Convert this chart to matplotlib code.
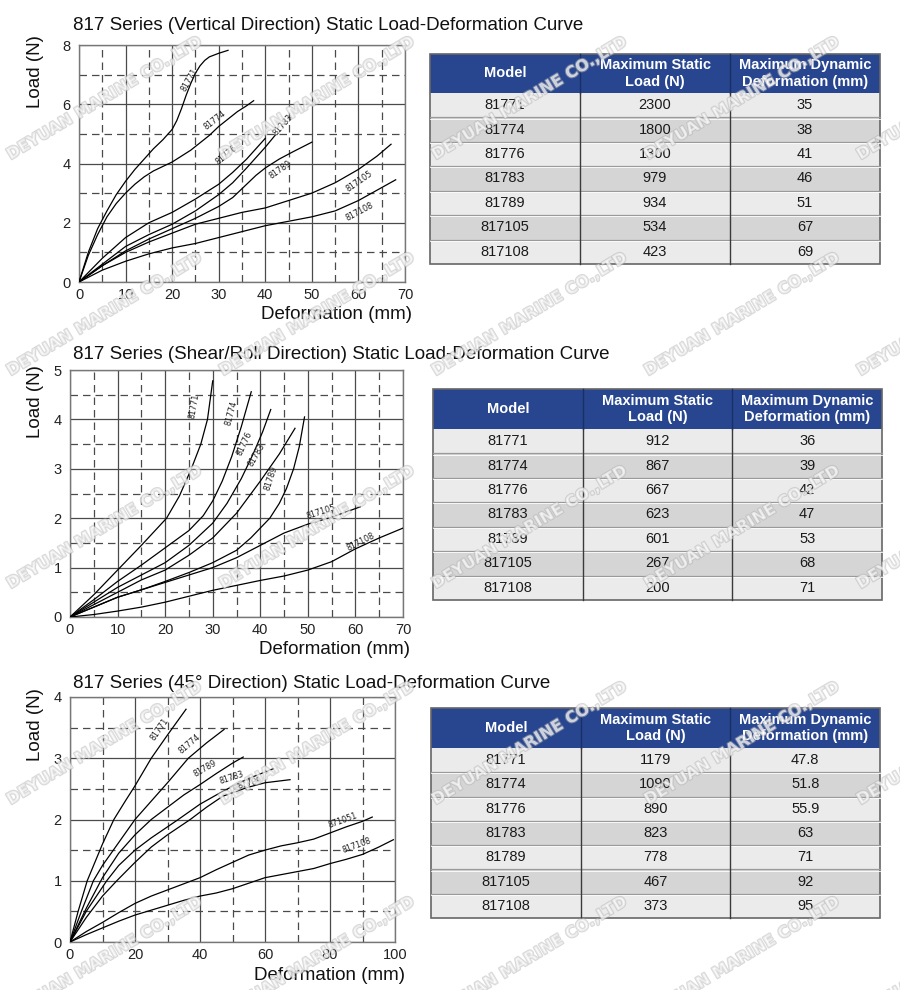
import numpy as np
import matplotlib
matplotlib.use('Agg')
import matplotlib.pyplot as plt
import matplotlib.patheffects as pe
from matplotlib.patches import Rectangle

plt.rcParams['font.family'] = ['Liberation Sans', 'DejaVu Sans']

W, H = 900, 990

# ---- data ----
models = ['81771', '81774', '81776', '81783', '81789', '817105', '817108']

vert_load = [2300, 1800, 1300, 979, 934, 534, 423]
vert_def = [35, 38, 41, 46, 51, 67, 69]
shear_load = [912, 867, 667, 623, 601, 267, 200]
shear_def = [36, 39, 42, 47, 53, 68, 71]
deg45_load = [1179, 1090, 890, 823, 778, 467, 373]
deg45_def = ['47.8', '51.8', '55.9', '63', '71', '92', '95']

table_cols = ['Model', 'Maximum Static\nLoad (N)', 'Maximum Dynamic\nDeformation (mm)']

# vertical direction curves (deformation mm, load)
vert_curves = [
    ([0, 2, 4, 6, 8, 10, 12, 14, 16, 18, 20, 21, 22, 23, 24, 25, 26, 27, 28, 30, 32],
     [0, 1.0, 1.8, 2.4, 2.95, 3.4, 3.8, 4.15, 4.5, 4.8, 5.15, 5.45, 5.85, 6.3, 6.7, 7.05, 7.3, 7.48, 7.6, 7.72, 7.82]),
    ([0, 2, 4, 6, 8, 10, 12, 14, 16, 18, 20, 22, 24, 26, 28, 30, 32, 34, 36, 37.5],
     [0, 0.9, 1.6, 2.2, 2.65, 3.0, 3.3, 3.55, 3.75, 3.9, 4.05, 4.25, 4.45, 4.7, 4.95, 5.25, 5.5, 5.75, 5.95, 6.12]),
    ([0, 5, 10, 15, 20, 25, 30, 33, 36, 38, 40],
     [0, 0.8, 1.5, 2.0, 2.35, 2.8, 3.3, 3.7, 4.15, 4.5, 4.85]),
    ([0, 5, 10, 15, 20, 25, 30, 33, 36, 38, 40, 42.1],
     [0, 0.6, 1.2, 1.6, 1.95, 2.4, 2.95, 3.35, 3.85, 4.2, 4.55, 4.95]),
    ([0, 5, 10, 15, 20, 25, 30, 33, 36, 38, 40, 43, 46, 50],
     [0, 0.55, 1.05, 1.45, 1.8, 2.15, 2.55, 2.85, 3.3, 3.6, 3.85, 4.15, 4.4, 4.72]),
    ([0, 5, 10, 15, 20, 25, 30, 35, 40, 45, 50, 55, 60, 64, 67],
     [0, 0.55, 1.0, 1.35, 1.65, 1.95, 2.15, 2.35, 2.5, 2.75, 3.0, 3.35, 3.8, 4.25, 4.65]),
    ([0, 5, 10, 15, 20, 25, 30, 35, 40, 45, 50, 55, 60, 64, 68],
     [0, 0.4, 0.7, 0.95, 1.15, 1.3, 1.5, 1.7, 1.9, 2.05, 2.2, 2.4, 2.75, 3.1, 3.45]),
]

# shear/roll direction curves
shear_curves = [
    ([0, 5, 10.5, 15, 20.3, 23, 25.5, 27.5, 28.9, 30],
     [0, 0.45, 1.0, 1.45, 2.0, 2.45, 3.0, 3.5, 4.0, 4.78]),
    ([0, 5, 10, 15, 20, 25, 28, 30, 32, 34, 36, 38.1],
     [0, 0.35, 0.72, 1.05, 1.4, 1.75, 2.05, 2.35, 2.75, 3.25, 3.85, 4.56]),
    ([0, 5, 10, 15, 20, 25, 30, 33, 36, 38.5, 40.5, 42.2],
     [0, 0.3, 0.6, 0.85, 1.1, 1.45, 1.9, 2.3, 2.8, 3.3, 3.75, 4.2]),
    ([0, 5, 10, 15, 20, 25, 30, 35, 40, 44, 47.3],
     [0, 0.25, 0.5, 0.75, 0.95, 1.25, 1.6, 2.1, 2.75, 3.3, 3.82]),
    ([0, 5, 10, 15, 20, 25, 30, 35, 38, 40, 42, 44, 45.5, 47, 48.2, 49.3],
     [0, 0.2, 0.4, 0.55, 0.72, 0.9, 1.1, 1.35, 1.6, 1.8, 2.0, 2.3, 2.6, 3.0, 3.45, 4.05]),
    ([0, 5, 10, 15, 20, 25, 30, 35, 40, 45, 50, 55, 61],
     [0, 0.2, 0.4, 0.55, 0.7, 0.85, 1.0, 1.2, 1.45, 1.7, 1.88, 2.02, 2.23]),
    ([0, 5, 10, 15, 20, 25, 30, 35, 40, 45, 50, 55, 60, 65, 70],
     [0, 0.05, 0.12, 0.2, 0.3, 0.42, 0.54, 0.64, 0.74, 0.83, 0.95, 1.12, 1.38, 1.6, 1.8]),
]

# 45 degree direction curves
deg45_curves = [
    ([0, 2.5, 5.3, 10, 13.5, 17, 20, 25, 30, 35.7],
     [0, 0.5, 1.0, 1.6, 2.0, 2.3, 2.55, 3.0, 3.38, 3.8]),
    ([0, 3.5, 7.2, 10, 14, 20, 25, 30, 36.4, 42, 47.4],
     [0, 0.5, 1.0, 1.25, 1.55, 2.0, 2.3, 2.6, 3.0, 3.25, 3.47]),
    ([0, 5, 10, 15, 20, 25, 30, 35, 40, 45, 50, 53.3],
     [0, 0.55, 1.05, 1.45, 1.75, 2.0, 2.2, 2.4, 2.57, 2.75, 2.92, 3.02]),
    ([0, 5, 11.3, 15, 20, 25, 30, 33.3, 40, 45, 49.2, 55, 62.6],
     [0, 0.5, 1.0, 1.25, 1.5, 1.7, 1.88, 2.0, 2.25, 2.4, 2.52, 2.67, 2.83]),
    ([0, 5, 10, 14.4, 20, 25, 30, 37, 42, 47, 54.4, 60, 67.7],
     [0, 0.4, 0.75, 1.0, 1.3, 1.55, 1.75, 2.0, 2.2, 2.38, 2.52, 2.6, 2.65]),
    ([0, 5, 10, 15, 20, 25, 30, 35, 40, 45, 50, 55, 60, 65, 70, 75, 80, 85, 90, 93],
     [0, 0.17, 0.32, 0.48, 0.63, 0.75, 0.85, 0.95, 1.05, 1.18, 1.3, 1.42, 1.5, 1.57, 1.62, 1.68, 1.78, 1.88, 1.97, 2.04]),
    ([0, 5, 10, 15, 20, 25, 30, 35, 40, 45, 50, 55, 60, 65, 70, 75, 80, 85, 90, 95, 99.5],
     [0, 0.12, 0.23, 0.34, 0.44, 0.52, 0.6, 0.68, 0.75, 0.8, 0.87, 0.96, 1.05, 1.1, 1.15, 1.2, 1.28, 1.35, 1.43, 1.55, 1.67]),
]

vert_names = models
shear_names = models
deg45_names = ['81771', '81774', '81789', '81783', '81789', '871051', '817108']

fig = plt.figure(figsize=(W / 100, H / 100), dpi=100)
fig.patch.set_facecolor('white')


def fx(x):
    return x / W


def fy(y):
    return 1 - y / H


def chart(box, title, title_y, curves, names, lab_pos, xmax, xmaj, xmin_, ymax, ymaj, ymin_, ylab_y, xlab_xy):
    l, t, r, b = box
    ax = fig.add_axes([fx(l), fy(b), (r - l) / W, (b - t) / H])
    for (xs, ys) in curves:
        ax.plot(xs, ys, color='black', lw=0.9, zorder=3)
    for name, (px, py, rot) in zip(names, lab_pos):
        ax.text(px, py, name, fontsize=5.8, rotation=rot, rotation_mode='anchor',
                ha='center', va='center', color='#222222', zorder=4, family='DejaVu Sans')
    ax.set_xlim(0, xmax)
    ax.set_ylim(0, ymax)
    ax.set_xticks(np.arange(0, xmax + 0.1, xmaj))
    ax.set_xticks(np.arange(xmin_, xmax, xmaj), minor=True)
    ax.set_yticks(np.arange(0, ymax + 0.1, ymaj))
    ax.set_yticks(np.arange(ymin_, ymax, ymaj), minor=True)
    ax.grid(which='major', color='#4a4a4a', lw=0.9, ls='-')
    ax.grid(which='minor', color='#4a4a4a', lw=0.9, ls=(0, (6, 4)))
    ax.tick_params(which='both', length=0, labelsize=10.5, labelcolor='#222222')
    ax.tick_params(axis='x', pad=4)
    ax.tick_params(axis='y', pad=6)
    for s in ax.spines.values():
        s.set_color('#777777')
        s.set_linewidth(1.0)
    ax.set_axisbelow(True)
    fig.text(fx(73), fy(title_y), title, fontsize=13.5, ha='left', va='center', color='#111111')
    fig.text(fx(36), fy(ylab_y), 'Load (N)', fontsize=13.5, rotation=90, ha='center', va='center', color='#111111')
    fig.text(fx(xlab_xy[0]), fy(xlab_xy[1]), 'Deformation (mm)', fontsize=13.5, ha='right', va='center', color='#111111')
    return ax


chart((79, 45, 405, 282), '817 Series (Vertical Direction) Static Load-Deformation Curve', 25,
      vert_curves, vert_names,
      [(23.8, 6.84, 60), (29.2, 5.47, 38), (31.7, 4.29, 40), (43.9, 5.3, 48), (43.2, 3.79, 35),
       (60.3, 3.39, 35), (60.3, 2.38, 28)],
      70, 10, 5, 8, 2, 1, 72, (412, 315))

chart((70, 370, 403, 617), '817 Series (Shear/Roll Direction) Static Load-Deformation Curve', 354,
      shear_curves, shear_names,
      [(26.2, 4.26, 80), (33.9, 4.12, 75), (36.7, 3.51, 65), (39.2, 3.28, 60), (42.3, 2.8, 72),
       (52.8, 2.13, 18), (61.2, 1.52, 27)],
      70, 10, 5, 5, 1, 0.5, 402, (410, 650))

chart((70, 697, 395, 942), '817 Series (45\u00b0 Direction) Static Load-Deformation Curve', 684,
      deg45_curves, deg45_names,
      [(27.7, 3.48, 55), (36.9, 3.24, 40), (41.5, 2.83, 30), (49.7, 2.68, 18), (55.4, 2.59, 15),
       (84.1, 1.99, 20), (88.2, 1.58, 20)],
      100, 20, 10, 4, 1, 0.5, 725, (405, 975))


def table(box, loads, defs):
    l, t, r, hb, b = box
    ax = fig.add_axes([fx(l), fy(b), (r - l) / W, (b - t) / H])
    w, h = r - l, b - t
    ax.set_xlim(0, w)
    ax.set_ylim(h, 0)
    ax.axis('off')
    hh = hb - t
    rh = (h - hh) / len(models)
    cw = w / 3
    ax.add_patch(Rectangle((0, 0), w, hh, facecolor='#28468f', edgecolor='none', clip_on=False))
    for j, c in enumerate(table_cols):
        ax.text(cw * (j + 0.5), hh / 2, c, ha='center', va='center', color='white',
                fontsize=10.5, fontweight='bold', linespacing=1.25)
    for i, m in enumerate(models):
        y0 = hh + i * rh
        fc = '#ebebeb' if i % 2 == 0 else '#d5d5d5'
        ax.add_patch(Rectangle((0, y0), w, rh, facecolor=fc, edgecolor='none', clip_on=False))
        if i > 0:
            ax.plot([0, w], [y0, y0], color='#9a9a9a', lw=0.9, clip_on=False)
            ax.plot([0, w], [y0 + 1.2, y0 + 1.2], color='white', lw=0.6, clip_on=False)
        for j, v in enumerate([m, loads[i], defs[i]]):
            ax.text(cw * (j + 0.5), y0 + rh / 2, str(v), ha='center', va='center',
                    fontsize=10.5, color='#1a1a1a')
    for j in (1, 2):
        ax.plot([cw * j, cw * j], [0, hh], color='#1a2f66', lw=1.0, clip_on=False)
        ax.plot([cw * j, cw * j], [hh, h], color='#3a3a3a', lw=1.0, clip_on=False)
    ax.add_patch(Rectangle((0, 0), w, h, facecolor='none', edgecolor='#666666', lw=1.2, clip_on=False))


table((430, 54, 880, 93, 264), vert_load, vert_def)
table((433, 389, 882, 429, 600), shear_load, shear_def)
table((431, 708, 880, 748, 918), deg45_load, deg45_def)

# watermark, repeated over the page as in the source image
for wy in [98, 314, 527, 743, 958]:
    for k in range(5):
        wx = 105 + 212.5 * k
        fig.text(fx(wx), fy(wy), 'DEYUAN MARINE CO.,LTD', rotation=31, ha='center', va='center',
                 fontsize=11.5, fontweight='bold', family='DejaVu Sans', color=(1, 1, 1, 0.5),
                 path_effects=[pe.Stroke(linewidth=1.5, foreground=(0.7, 0.7, 0.7, 0.5)), pe.Normal()],
                 zorder=10)

fig.savefig('out.png', dpi=100, facecolor='white')
